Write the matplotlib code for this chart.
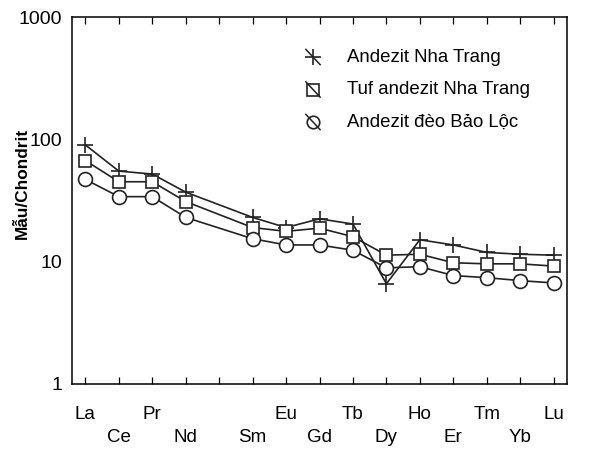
import numpy as np
import matplotlib
matplotlib.use("Agg")
from matplotlib import pyplot as plt

plt.rcParams['font.family'] = ['Liberation Sans', 'DejaVu Sans']

# REE order (Pm kept as an empty slot)
elements = ["La", "Ce", "Pr", "Nd", "Pm", "Sm", "Eu", "Gd", "Tb", "Dy", "Ho", "Er", "Tm", "Yb", "Lu"]
labeled = ["La", "Ce", "Pr", "Nd", "Sm", "Eu", "Gd", "Tb", "Dy", "Ho", "Er", "Tm", "Yb", "Lu"]

andezit_nha_trang = [90, 55, 52, 37, 23, 19, 22.4, 20.3, 6.6, 15.1, 13.7, 11.9, 11.5, 11.3]
tuf_nha_trang = [67, 45, 45, 31, 19, 17.7, 18.8, 16, 11.3, 11.5, 9.8, 9.6, 9.6, 9.2]
andezit_bao_loc = [47, 34, 34, 23, 15.4, 13.7, 13.7, 12.4, 8.9, 9.1, 7.7, 7.4, 7.0, 6.7]

series_names = ["Andezit Nha Trang", "Tuf andezit Nha Trang", "Andezit đèo Bảo Lộc"]
markers = ["+", "s", "o"]

xpos = [elements.index(e) for e in labeled]

fig = plt.figure(figsize=(5.94, 4.49), dpi=100)
ax = fig.add_axes([72 / 594, 1 - 384 / 449, (567 - 72) / 594, (384 - 17) / 449])

for vals, mk in zip([andezit_nha_trang, tuf_nha_trang, andezit_bao_loc], markers):
    if mk == "+":
        ax.plot(xpos, vals, color="#222222", lw=1.2, marker="+", ms=12, mew=1.2, zorder=3)
    else:
        ax.plot(xpos, vals, color="#222222", lw=1.2, marker=mk,
                ms=9 if mk == "s" else 10, mfc="white", mec="#222222", mew=1.2, zorder=3)

ax.set_yscale("log")
ax.set_ylim(1, 1000)
ax.set_xlim(-0.4, 14.4)
ax.set_yticks([1, 10, 100, 1000])
ax.set_yticklabels(["1", "10", "100", "1000"], fontsize=14)
ax.yaxis.set_minor_locator(matplotlib.ticker.NullLocator())
ax.tick_params(axis="y", length=0, pad=7)

ax.set_xticks(range(len(elements)))
ax.set_xticklabels([])
ax.tick_params(axis="x", direction="in", length=5, top=True, width=0.9)

# element names in two staggered rows (odd slots drop to the lower row)
for e in labeled:
    x = elements.index(e)
    y = -0.084 if x % 2 == 0 else -0.147
    ax.text(x, y, e, transform=ax.get_xaxis_transform(), ha="center", va="center", fontsize=13.5)

for s in ax.spines.values():
    s.set_linewidth(1.1)

fig.text(22 / 594, 1 - 183 / 449, "Mẫu/Chondrit", rotation=90, ha="center", va="center",
         fontsize=12.4, fontweight="bold")

# legend: marker with a diagonal stroke, then the name
for k, (name, mk) in enumerate(zip(series_names, markers)):
    yl = 1 - (57 + 32.5 * k) / 449
    xm = 313 / 594
    fig.add_artist(plt.Line2D([xm - 0.012, xm + 0.012], [yl + 0.017, yl - 0.017],
                              color="#222222", lw=1.1, transform=fig.transFigure))
    if mk == "+":
        fig.add_artist(plt.Line2D([xm], [yl], marker="+", ms=12, mew=1.2, color="#222222",
                                  transform=fig.transFigure))
    else:
        fig.add_artist(plt.Line2D([xm], [yl], marker=mk, ms=9, mfc="none", mec="#222222", mew=1.2,
                                  transform=fig.transFigure))
    fig.text(347 / 594, yl, name, ha="left", va="center", fontsize=13.4)

fig.savefig("out.png", dpi=100)
